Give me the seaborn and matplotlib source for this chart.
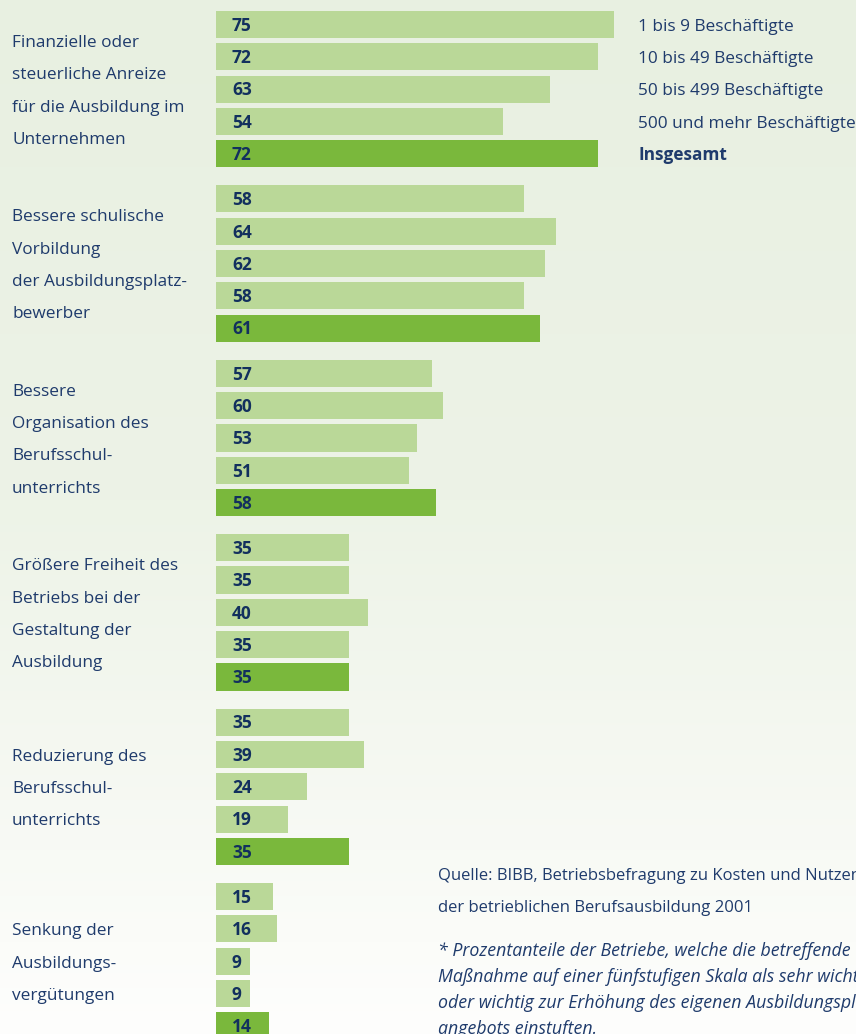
import numpy as np
import pandas as pd
import matplotlib.pyplot as plt
import seaborn as sns

# ===============================
# Data
# ===============================
measures = [
    ["Finanzielle oder", "steuerliche Anreize", "für die Ausbildung im", "Unternehmen"],
    ["Bessere schulische", "Vorbildung", "der Ausbildungsplatz-", "bewerber"],
    ["Bessere", "Organisation des", "Berufsschul-", "unterrichts"],
    ["Größere Freiheit des", "Betriebs bei der", "Gestaltung der", "Ausbildung"],
    ["Reduzierung des", "Berufsschul-", "unterrichts"],
    ["Senkung der", "Ausbildungs-", "vergütungen"],
]
series = ["1 bis 9 Beschäftigte", "10 bis 49 Beschäftigte", "50 bis 499 Beschäftigte",
          "500 und mehr Beschäftigte", "Insgesamt"]
v_1_9 = [75, 58, 57, 35, 35, 15]
v_10_49 = [72, 64, 60, 35, 39, 16]
v_50_499 = [63, 62, 53, 40, 24, 9]
v_500_plus = [54, 58, 51, 35, 19, 9]
v_total = [72, 61, 58, 35, 35, 14]

source_lines = ["Quelle: BIBB, Betriebsbefragung zu Kosten und Nutzen",
                "der betrieblichen Berufsausbildung 2001"]
note_lines = ["* Prozentanteile der Betriebe, welche die betreffende",
              "Maßnahme auf einer fünfstufigen Skala als sehr wichtig",
              "oder wichtig zur Erhöhung des eigenen Ausbildungsplatz-",
              "angebots einstuften."]

# ===============================
# Layout / style
# ===============================
W, H, DPI = 856, 1034, 100
PITCH = 32.3          # px between bars
FIRST = 24.5          # px centre of first bar
GROUP_STEP = 5.4      # bar pitches between groups
X0 = 216              # px where bars start
SCALE_TOP = 5.307     # px per percent, first two groups
SCALE_BOT = 3.79      # px per percent, other groups

LIGHT = "#bad898"
DARK = "#7ab83c"
NAVY = "#1f3b6c"
NAVY_B = "#12305e"

sns.set_style("white")
plt.rcParams["font.family"] = ["Open Sans", "DejaVu Sans"]

rows = []
vals = [v_1_9, v_10_49, v_50_499, v_500_plus, v_total]
for j, (name, vs) in enumerate(zip(series, vals)):
    for g, v in enumerate(vs):
        rows.append({"group": g, "series": name, "value": v, "pos": g * GROUP_STEP + j})
df = pd.DataFrame(rows)
palette = {s: (DARK if s == "Insgesamt" else LIGHT) for s in series}

fig = plt.figure(figsize=(W / DPI, H / DPI), dpi=DPI)

# background gradient
bg = fig.add_axes([0, 0, 1, 1], zorder=0)
stops_y = [0, 500, 850, H]
stops_c = np.array([[232, 240, 225], [237, 243, 231], [248, 250, 245], [254, 254, 253]]) / 255
yy = np.arange(H)
grad = np.stack([np.interp(yy, stops_y, stops_c[:, k]) for k in range(3)], axis=1)
bg.imshow(np.repeat(grad[:, None, :], 4, axis=1), aspect="auto", extent=(0, 1, 1, 0))
bg.set_xlim(0, 1)
bg.set_ylim(1, 0)
bg.axis("off")

y_top = -FIRST / PITCH
y_bot = y_top + H / PITCH
cap = 6.3 / PITCH   # half cap height -> baseline offset


def draw_part(sub, scale, z):
    ax = fig.add_axes([0, 0, 1, 1], zorder=z)
    ax.patch.set_alpha(0)
    sns.barplot(data=sub, x="value", y="pos", hue="series", hue_order=series,
                palette=palette, orient="y", native_scale=True, dodge=False,
                width=0.84, saturation=1, errorbar=None, legend=False,
                linewidth=0, ax=ax)
    ax.set_xlim(-X0 / scale, (W - X0) / scale)
    ax.set_ylim(y_bot, y_top)
    ax.axis("off")
    for _, r in sub.iterrows():
        ax.text((X0 + 16) / W, r["pos"] + cap, f"{r['value']}",
                transform=ax.get_yaxis_transform(), ha="left", va="baseline",
                fontsize=12.5, fontweight="bold", color=NAVY_B)
    return ax


ax_top = draw_part(df[df["group"] < 2], SCALE_TOP, 2)
ax_bot = draw_part(df[df["group"] >= 2], SCALE_BOT, 3)

# category labels, centred on each group
for g, lines in enumerate(measures):
    n = len(lines)
    for k, line in enumerate(lines):
        y = g * GROUP_STEP + 2 - (n - 1) / 2 + k
        ax_bot.text(12 / W, y + cap, line, transform=ax_bot.get_yaxis_transform(),
                    ha="left", va="baseline", fontsize=12.4, color=NAVY)

# legend, aligned with first group
for j, name in enumerate(series):
    ax_bot.text(638 / W, j + cap, name, transform=ax_bot.get_yaxis_transform(),
                ha="left", va="baseline", fontsize=12.4, color=NAVY,
                fontweight="bold" if name == "Insgesamt" else "normal")

# source and footnote
for k, line in enumerate(source_lines):
    fig.text(438 / W, 1 - (880 + 32 * k) / H, line, ha="left", va="baseline",
             fontsize=12.0, color=NAVY, zorder=5)
for k, line in enumerate(note_lines):
    fig.text(438 / W, 1 - (956 + 26 * k) / H, line, ha="left", va="baseline",
             fontsize=12.8, style="italic", color=NAVY, zorder=5)

fig.savefig("out.png", dpi=DPI)
